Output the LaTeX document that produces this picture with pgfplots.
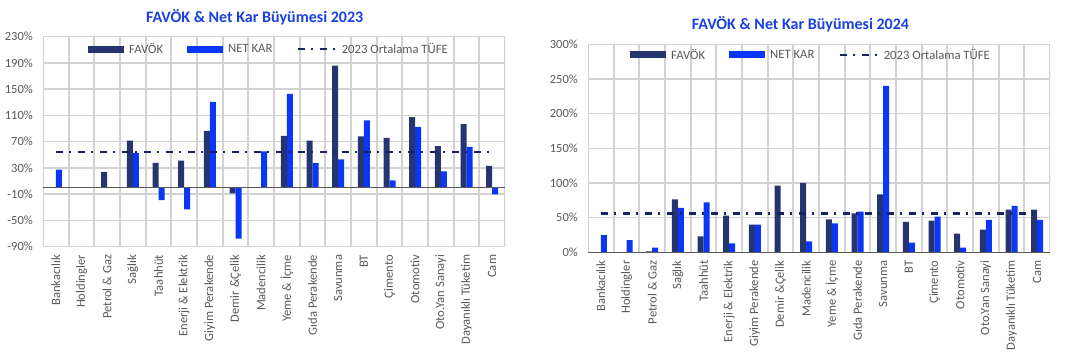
\documentclass[border=0pt]{standalone}
\usepackage{pgfplots}
\usepackage{pgfplotstable}
\pgfplotsset{compat=1.18}
\usepackage{fontspec}
\setmainfont{Carlito}
\definecolor{favok}{RGB}{38,52,112}
\definecolor{netkar}{RGB}{10,55,245}
\definecolor{titleblue}{RGB}{25,65,225}
\definecolor{lbl}{RGB}{89,89,89}
\definecolor{gridc}{RGB}{210,210,210}
\definecolor{tufe}{RGB}{22,36,100}

\pgfplotstableread{
x favok net
0 nan 27.5
1 nan nan
2 24 nan
3 71.5 53
4 37.6 -19.2
5 41 -33
6 86.5 130.6
7 -8.6 -77.8
8 nan 55.3
9 79 142.7
10 71.6 37.3
11 186 42.9
12 78 102.4
13 75.9 11
14 107.4 92.7
15 63.2 24.6
16 96.8 62.2
17 33.2 -10.2
}\dataA

\pgfplotstableread{
x favok net
0 nan 24.8
1 nan 17.5
2 1.5 6.8
3 76.2 64
4 23 72
5 52.8 13
6 40 40
7 96 nan
8 100 15.9
9 47.6 41.8
10 56.2 58.7
11 83.6 240
12 43.8 14
13 45.6 51.4
14 27 6.7
15 32.6 46.6
16 61.5 66.8
17 61.5 46.6
}\dataB

\pgfplotsset{
  mystyle/.style={
    scale only axis, width=462pt,
    xmin=-0.5, xmax=17.5,
    xtick={0,1,2,3,4,5,6,7,8,9,10,11,12,13,14,15,16,17},
    xticklabels={Bankacılık,Holdingler,Petrol \& Gaz,Sağlık,Taahhüt,Enerji \& Elektrik,Giyim Perakende,Demir \&Çelik,Madencilik,Yeme \& İçme,Gıda Perakende,Savunma,BT,Çimento,Otomotiv,Oto.Yan Sanayi,Dayanıklı Tüketim,Cam},
    ymajorgrids=true, xmajorgrids=false,
    grid style={gridc, line width=1.5pt},
    major grid style={gridc, line width=1.5pt},
    axis line style={draw=none},
    major tick length=0pt, minor tick length=0pt,
    tick style={draw=none},
    ticklabel style={text=lbl},
    xticklabel style={rotate=90, anchor=east, inner sep=0pt, font=\fontsize{12.6}{14}\selectfont},
    xticklabel shift=8pt,
    yticklabel style={inner sep=0pt, anchor=east, font=\fontsize{12.5}{14}\selectfont},
    yticklabel shift=10pt,
    legend columns=3,
    legend style={draw=none, fill=none, inner sep=0pt, font=\fontsize{12.7}{14}\selectfont, text=lbl,
      nodes={inner sep=0pt, anchor=west},
      /tikz/every odd column/.append style={column sep=5pt},
      /tikz/every even column/.append style={column sep=24pt}},
  },
  barleg/.style={legend image code/.code={\fill[##1] (0pt,-3.5pt) rectangle (36pt,3.5pt);}},
  lineleg/.style={legend image code/.code={\draw[##1] (0pt,0pt) -- (31pt,0pt); \path (0pt,0pt) -- (38pt,0pt);}},
  tufeline/.style={tufe, line width=2.3pt, dash pattern=on 7.5pt off 6pt on 2pt off 6.5pt},
}
\newcommand{\vgrid}{%
  \pgfplotsinvokeforeach{-0.5,0.5,1.5,2.5,3.5,4.5,5.5,6.5,7.5,8.5,9.5,10.5,11.5,12.5,13.5,14.5,15.5,16.5,17.5}{%
    \draw[gridc, line width=1.8pt] ({axis cs:##1,0} |- {rel axis cs:0,0}) -- ({axis cs:##1,0} |- {rel axis cs:0,1});}%
}

\begin{document}
\begin{tikzpicture}
\path[use as bounding box] (0,0) rectangle (1070pt,361pt);

\node[font=\fontsize{16}{18}\selectfont\bfseries, text=titleblue] at (254.7pt,344pt) {FAVÖK \& Net Kar Büyümesi 2023};
\node[font=\fontsize{16}{18}\selectfont\bfseries, text=titleblue] at (800.5pt,337pt) {FAVÖK \& Net Kar Büyümesi 2024};

\begin{axis}[mystyle, at={(43pt,114.3pt)}, anchor=south west, height=210pt,
  ymin=-90, ymax=230, ytick={-90,-50,-10,30,70,110,150,190,230},
  yticklabels={-90\%,-50\%,-10\%,30\%,70\%,110\%,150\%,190\%,230\%},
  legend style={at={(0.0974,0.941)}, anchor=west}]
\vgrid
\addplot[ybar, bar width=6pt, bar shift=-3pt, fill=favok, draw=none, barleg] table[x=x, y=favok] {\dataA};
\addlegendentry{FAVÖK}
\addplot[ybar, bar width=6pt, bar shift=3pt, fill=netkar, draw=none, barleg] table[x=x, y=net] {\dataA};
\addlegendentry{NET KAR}
\addplot[tufeline, lineleg] coordinates {(0,53.9) (17,53.9)};
\addlegendentry{2023 Ortalama TÜFE}
\addplot[lbl, line width=1.5pt, forget plot] coordinates {(-0.5,0) (17.5,0)};
\end{axis}

\begin{axis}[mystyle, at={(588pt,108.7pt)}, anchor=south west, height=208pt,
  ymin=0, ymax=300, ytick={0,50,100,150,200,250,300},
  yticklabels={0\%,50\%,100\%,150\%,200\%,250\%,300\%},
  legend style={at={(0.0909,0.949)}, anchor=west}]
\vgrid
\addplot[ybar, bar width=6pt, bar shift=-3pt, fill=favok, draw=none, barleg] table[x=x, y=favok] {\dataB};
\addlegendentry{FAVÖK}
\addplot[ybar, bar width=6pt, bar shift=3pt, fill=netkar, draw=none, barleg] table[x=x, y=net] {\dataB};
\addlegendentry{NET KAR}
\addplot[tufeline, lineleg] coordinates {(0,56) (17,56)};
\addlegendentry{2023 Ortalama TÜFE}
\addplot[lbl, line width=1.5pt, forget plot] coordinates {(-0.5,0) (17.5,0)};
\end{axis}
\end{tikzpicture}
\end{document}
